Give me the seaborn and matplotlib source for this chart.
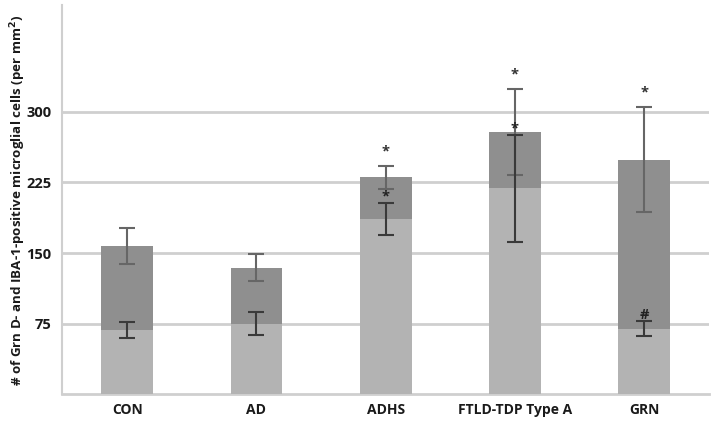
import matplotlib
matplotlib.use("Agg")
import matplotlib.pyplot as plt
import seaborn as sns
import numpy as np
import pandas as pd

categories = ["CON", "AD", "ADHS", "FTLD-TDP Type A", "GRN"]
total_cells = [157.6, 134.3, 230.2, 278.3, 249.0]
total_err = [19.5, 14.3, 12.3, 46.0, 55.5]
grn_cells = [68.5, 74.8, 186.0, 218.9, 69.9]
grn_err = [8.8, 12.2, 17.2, 56.8, 8.3]
total_marks = ["", "", "*", "*", "*"]
grn_marks = ["", "", "*", "*", "#"]
yticks = [75, 150, 225, 300]

sns.set_theme(style="white")
plt.rcParams['font.family'] = ['Open Sans', 'DejaVu Sans']

df = pd.DataFrame({"cat": categories, "total": total_cells, "grn": grn_cells})

fig = plt.figure(figsize=(7.14, 4.25), dpi=100)
ax = fig.add_axes([0.0875, 0.0718, 0.9055, 0.9162])

ax.set_axisbelow(True)
for t in yticks:
    ax.axhline(t, color="#cfcfcf", lw=2, zorder=0)

sns.barplot(data=df, x="cat", y="total", color="#8f8f8f", saturation=1,
            width=0.4, ax=ax, errorbar=None, zorder=2, linewidth=0)
sns.barplot(data=df, x="cat", y="grn", color="#b3b3b3", saturation=1,
            width=0.4, ax=ax, errorbar=None, zorder=3, linewidth=0)

xs = np.arange(len(categories))
ax.errorbar(xs, total_cells, yerr=total_err, fmt="none", ecolor="#666666",
            elinewidth=1.5, capsize=6, capthick=1.5, zorder=5)
ax.errorbar(xs, grn_cells, yerr=grn_err, fmt="none", ecolor="#3a3a3a",
            elinewidth=1.5, capsize=6, capthick=1.5, zorder=6)

for i in range(len(categories)):
    if total_marks[i]:
        ax.text(xs[i], total_cells[i] + total_err[i] + 8, total_marks[i],
                ha="center", va="bottom", fontsize=10.5, fontweight="bold", color="#333333", zorder=7)
    if grn_marks[i]:
        ax.text(xs[i], grn_cells[i] + grn_err[i] - 1, grn_marks[i],
                ha="center", va="bottom", fontsize=10.5, fontweight="bold", color="#222222", zorder=7)

ax.set_xlim(-0.5, 4.5)
ax.set_ylim(0, 413)
ax.set_yticks(yticks)
ax.set_yticklabels([str(t) for t in yticks], fontsize=10.5, fontweight="bold", color="#1a1a1a")
ax.set_xticklabels(categories, fontsize=10, fontweight="bold", color="#1a1a1a")
ax.tick_params(axis="y", length=0, pad=8)
ax.tick_params(axis="x", length=0, pad=6)
ax.set_xlabel("")
ax.set_ylabel("")
fig.text(18 / 714, 1 - 200 / 425,
         "# of Grn D- and IBA-1-positive microglial cells (per mm$^\\mathbf{2}$)",
         rotation=90, ha="center", va="center",
         fontsize=9.6, fontweight="bold", color="#1a1a1a")

for s in ["top", "right"]:
    ax.spines[s].set_visible(False)
ax.spines["left"].set_color("#cfcfcf")
ax.spines["left"].set_linewidth(1.5)
ax.spines["bottom"].set_color("#cfcfcf")
ax.spines["bottom"].set_linewidth(2)

fig.savefig("out.png", dpi=100)
